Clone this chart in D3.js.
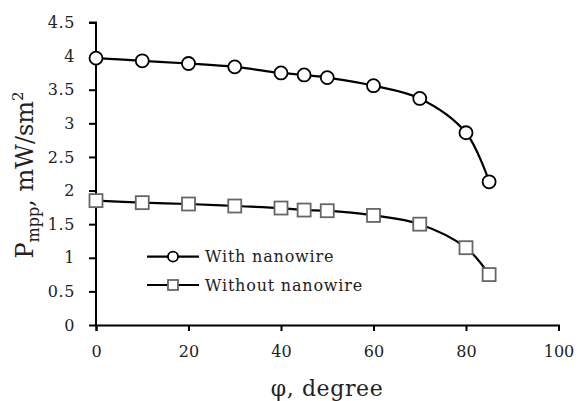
<!DOCTYPE html>
<html><head><meta charset="utf-8">
<script src="https://cdn.jsdelivr.net/npm/d3@7"></script>
<style>body{margin:0;background:#fff}svg{display:block}text{font-family:"DejaVu Serif",serif;fill:#222}</style>
</head><body><div id="c"></div>
<script>
const angles = [0,10,20,30,40,45,50,60,70,80,85];
const withNanowire = [3.97,3.93,3.89,3.84,3.75,3.72,3.68,3.56,3.37,2.86,2.13];
const withoutNanowire = [1.85,1.82,1.80,1.77,1.74,1.71,1.70,1.63,1.50,1.15,0.75];
const xTicks = [0,20,40,60,80,100];
const yTicks = [0,0.5,1,1.5,2,2.5,3,3.5,4,4.5];
const seriesNames = ["With nanowire","Without nanowire"];

const W=579,H=401;
const svg=d3.select("#c").append("svg").attr("width",W).attr("height",H);
const x=d3.scaleLinear().domain([0,100]).range([96,558.5]);
const y=d3.scaleLinear().domain([0,4.5]).range([325,22.5]);

const gx=svg.append("g").attr("transform",`translate(0,${y(0)})`)
  .call(d3.axisBottom(x).tickValues(xTicks).tickSize(6).tickPadding(15).tickFormat(d3.format("d")));
const gy=svg.append("g").attr("transform",`translate(${x(0)},0)`)
  .call(d3.axisLeft(y).tickValues(yTicks).tickSize(7).tickPadding(14).tickFormat(d=>String(d)));
[gx,gy].forEach(g=>{
  g.select(".domain").attr("stroke","#000").attr("stroke-width",2);
  g.selectAll(".tick line").attr("stroke","#000").attr("stroke-width",2);
  g.selectAll(".tick text").style("font-family","DejaVu Serif").style("font-size","16px").attr("fill","#222");
});
gy.selectAll(".tick text").style("letter-spacing","0.6px");
gy.select(".domain").attr("d",`M-7,${y(4.5)}H0V${y(0)}`);

const line=d3.line().x(d=>x(d[0])).y(d=>y(d[1])).curve(d3.curveCatmullRom.alpha(0.5));
const s1=angles.map((a,i)=>[a,withNanowire[i]]);
const s2=angles.map((a,i)=>[a,withoutNanowire[i]]);
svg.append("path").attr("d",line(s2)).attr("fill","none").attr("stroke","#000").attr("stroke-width",2.2);
svg.append("path").attr("d",line(s1)).attr("fill","none").attr("stroke","#000").attr("stroke-width",2.2);

svg.selectAll("rect.m").data(s2).enter().append("rect").attr("class","m")
  .attr("x",d=>x(d[0])-6.5).attr("y",d=>y(d[1])-6.5).attr("width",13).attr("height",13)
  .attr("fill","#fff").attr("stroke","#666").attr("stroke-width",1.8);
svg.selectAll("circle.m").data(s1).enter().append("circle").attr("class","m")
  .attr("cx",d=>x(d[0])).attr("cy",d=>y(d[1])).attr("r",6.5)
  .attr("fill","#fff").attr("stroke","#000").attr("stroke-width",1.8);

// legend
const lg=svg.append("g");
[256.7,285].forEach((ly,i)=>{
  lg.append("line").attr("x1",147).attr("x2",199).attr("y1",ly).attr("y2",ly).attr("stroke","#000").attr("stroke-width",2.2);
  if(i===0) lg.append("circle").attr("cx",173).attr("cy",ly).attr("r",5).attr("fill","#fff").attr("stroke","#000").attr("stroke-width",1.8);
  else lg.append("rect").attr("x",168).attr("y",ly-5).attr("width",10).attr("height",10).attr("fill","#fff").attr("stroke","#666").attr("stroke-width",1.8);
  lg.append("text").attr("x",205).attr("y",ly+5.5).style("font-size","16px").style("letter-spacing","0.8px").text(seriesNames[i]);
});

// axis titles
svg.append("text").attr("x",327).attr("y",396).attr("text-anchor","middle").style("font-size","22px").style("letter-spacing","0.6px").text("φ, degree");
const yt=svg.append("text").attr("transform","translate(33,175) rotate(-90)").attr("text-anchor","middle").style("font-size","24px");
yt.append("tspan").text("P");
yt.append("tspan").attr("dy",6).style("font-size","16px").text("mpp");
yt.append("tspan").attr("dy",-6).text(", mW/sm");
yt.append("tspan").attr("dy",-10).style("font-size","15px").text("2");
</script></body></html>
